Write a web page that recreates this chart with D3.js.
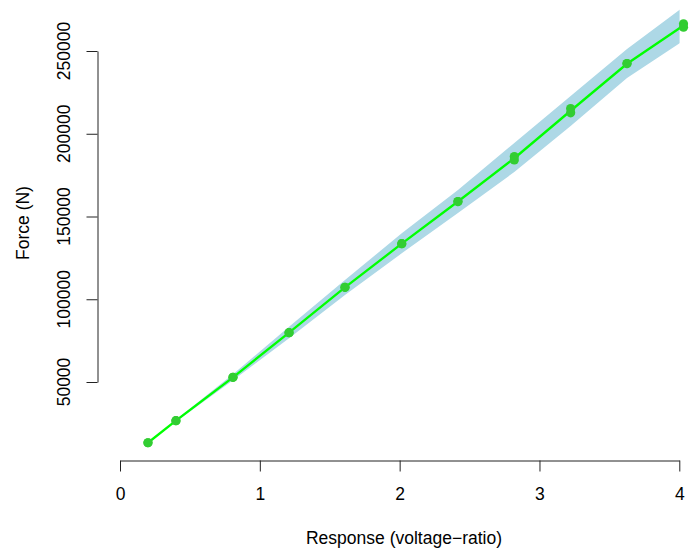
<!DOCTYPE html>
<html>
<head>
<meta charset="utf-8">
<script src="https://cdn.jsdelivr.net/npm/d3@7"></script>
<style>
  body { margin: 0; background: #fff; }
  text { font-family: "Liberation Sans", Arial, sans-serif; }
</style>
</head>
<body>
<div class="chart"></div>
<script>
// calibration data: response (voltage-ratio) vs force (N)
var response = [0.2, 0.2, 0.4, 0.4, 0.808, 0.808, 1.209, 1.209, 1.609, 1.609,
  2.015, 2.015, 2.417, 2.417, 2.82, 2.82, 3.223, 3.223, 3.626, 3.626, 4.03, 4.03];
var force = [13300, 13300, 26620, 26620, 52840, 52840, 79790, 79790, 107200, 107200,
  133570, 133570, 159000, 159000, 186250, 184140, 215200, 212660, 242400, 242400, 266430, 264380];

// fitted line and band at each response level
var levels = [0.2, 0.4, 0.808, 1.209, 1.609, 2.015, 2.417, 2.82, 3.223, 3.626, 4.03];
var fit = [13300, 26620, 52840, 79790, 107150, 133570, 159060, 185200, 213900, 242300, 265400];
var lower = [13000, 26000, 51040, 76400, 102570, 127760, 152115, 176890, 204680, 233690, 256200];
var upper = [13600, 27200, 54640, 83380, 111630, 139850, 166010, 194410, 222810, 251210, 276600];

var xTicks = [0, 1, 2, 3, 4];
var yTicks = [50000, 100000, 150000, 200000, 250000];

var svgWidth = 694;
var svgHeight = 560;
var fontSize = "17.5px";

var svg = d3.select(".chart")
  .append("svg")
  .attr("width", svgWidth)
  .attr("height", svgHeight);

var x = d3.scaleLinear().domain([0, 4]).range([120, 679.3]);
var y = d3.scaleLinear().domain([50000, 250000]).range([382, 51]);

svg.append("clipPath")
  .attr("id", "plotclip")
  .append("rect")
  .attr("x", 97.7)
  .attr("y", -20)
  .attr("width", 679.6 - 97.7)
  .attr("height", 481);

// band
var band = d3.area()
  .x((d, i) => x(levels[i]))
  .y0((d, i) => y(lower[i]))
  .y1((d, i) => y(upper[i]));

svg.append("path")
  .datum(levels)
  .attr("clip-path", "url(#plotclip)")
  .attr("d", band)
  .attr("fill", "#ADD8E6");

// fitted line
var line = d3.line()
  .x((d, i) => x(levels[i]))
  .y((d, i) => y(fit[i]));

svg.append("path")
  .datum(levels)
  .attr("d", line)
  .attr("fill", "none")
  .attr("stroke", "#00FF00")
  .attr("stroke-width", 2.3);

// points
svg.selectAll("circle")
  .data(response)
  .enter()
  .append("circle")
  .attr("cx", d => x(d))
  .attr("cy", (d, i) => y(force[i]))
  .attr("r", 4.6)
  .attr("fill", "#32CD32");

// axes
var bottomAxis = d3.axisBottom(x)
  .tickValues(xTicks)
  .tickFormat(d3.format("d"))
  .tickSize(11)
  .tickSizeOuter(0)
  .tickPadding(16);

var xg = svg.append("g")
  .attr("transform", "translate(0, 460.5)")
  .call(bottomAxis);
xg.selectAll("text").style("font-size", fontSize).attr("fill", "#000")
  .style("font-family", "'Liberation Sans', Arial, sans-serif");
xg.selectAll("line, path").attr("stroke", "#222");

var leftAxis = d3.axisLeft(y)
  .tickValues(yTicks)
  .tickFormat("")
  .tickSize(11)
  .tickSizeOuter(0);

var yg = svg.append("g")
  .attr("transform", "translate(97.5, 0)")
  .call(leftAxis);
yg.selectAll("line, path").attr("stroke", "#222");

svg.selectAll(".ylab")
  .data(yTicks)
  .enter()
  .append("text")
  .attr("class", "ylab")
  .attr("transform", d => `translate(70, ${y(d)}) rotate(-90)`)
  .attr("text-anchor", "middle")
  .style("font-size", fontSize)
  .text(d => d);

// axis titles
svg.append("text")
  .attr("transform", "translate(29, 223) rotate(-90)")
  .attr("text-anchor", "middle")
  .style("font-size", fontSize)
  .text("Force (N)");

svg.append("text")
  .attr("x", 404)
  .attr("y", 544)
  .attr("text-anchor", "middle")
  .style("font-size", fontSize)
  .text("Response (voltage\u2212ratio)");
</script>
</body>
</html>
